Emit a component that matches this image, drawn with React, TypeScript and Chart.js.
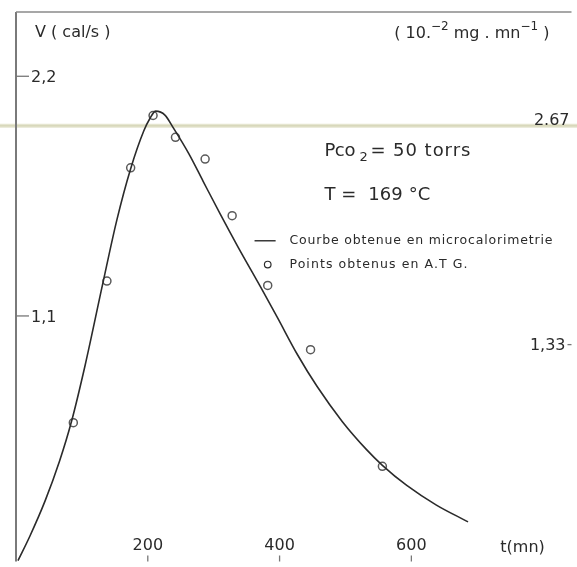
import React, { useEffect, useRef } from "react";
import { Chart, registerables } from "chart.js";
Chart.register(...registerables);

// Microcalorimetry curve (t in mn, V in cal/s)
const curveT = [3, 21, 44, 66, 84, 105, 131, 153, 174, 194, 203, 212, 226, 239, 262, 284, 310, 337, 373, 397, 427, 457, 495, 532, 556, 593, 638, 686];
const curveV = [-0.023, 0.089, 0.25, 0.433, 0.613, 0.875, 1.239, 1.54, 1.776, 1.95, 2.005, 2.04, 2.022, 1.962, 1.846, 1.718, 1.567, 1.416, 1.223, 1.091, 0.923, 0.776, 0.616, 0.4865, 0.4145, 0.322, 0.232, 0.155];

// A.T.G. points
const pointsT = [87, 138, 174, 208, 242, 287, 328, 382, 447, 556];
const pointsV = [0.61, 1.26, 1.78, 2.02, 1.92, 1.82, 1.56, 1.24, 0.945, 0.41];

// ticks
const xTicks = [200, 400, 600];
const xTickLabels = ["200", "400", "600"];
const yTicks = [2.2, 1.1];
const yTickLabels = ["2,2", "1,1"];
const y2Ticks = [2.67, 1.33];
const y2TickLabels = ["2.67", "1,33"];

const FONT = '"DejaVu Sans", "Liberation Sans", sans-serif';
const INK = "#2a2a2a";

function drawFitted(ctx: CanvasRenderingContext2D, text: string, x: number, y: number, target: number) {
  ctx.save();
  (ctx as any).letterSpacing = "0px";
  const w = ctx.measureText(text).width;
  const n = text.length;
  const ls = n > 1 ? (target - w) / (n - 1) : 0;
  (ctx as any).letterSpacing = ls + "px";
  ctx.fillText(text, x, y);
  ctx.restore();
}

const decorPlugin = {
  id: "decor",
  beforeDatasetsDraw(chart: any) {
    const { ctx, chartArea } = chart;
    const xs = chart.scales.x;
    const ys = chart.scales.y;
    const y2 = chart.scales.y2;
    const x0 = xs.getPixelForValue(0);
    ctx.save();
    // faint scan line
    const yl = y2.getPixelForValue(2.635);
    ctx.strokeStyle = "rgba(222,222,196,0.8)";
    ctx.lineWidth = 4;
    ctx.beginPath();
    ctx.moveTo(0, yl);
    ctx.lineTo(chart.width, yl);
    ctx.stroke();
    ctx.strokeStyle = "rgba(205,205,170,0.55)";
    ctx.lineWidth = 1.5;
    ctx.beginPath();
    ctx.moveTo(0, yl);
    ctx.lineTo(chart.width, yl);
    ctx.stroke();

    // left axis
    ctx.strokeStyle = "#7a7a7a";
    ctx.lineWidth = 2;
    ctx.beginPath();
    ctx.moveTo(x0, chartArea.top);
    ctx.lineTo(x0, chartArea.bottom);
    ctx.stroke();
    // top border
    ctx.lineWidth = 1.6;
    ctx.strokeStyle = "#8a8a8a";
    ctx.beginPath();
    ctx.moveTo(x0, chartArea.top);
    ctx.lineTo(chartArea.right, chartArea.top);
    ctx.stroke();

    ctx.fillStyle = INK;
    ctx.textBaseline = "middle";

    // left ticks
    ctx.strokeStyle = "#777";
    ctx.lineWidth = 1.3;
    ctx.font = `16px ${FONT}`;
    ctx.textAlign = "left";
    yTicks.forEach((v, i) => {
      const py = ys.getPixelForValue(v);
      ctx.beginPath();
      ctx.moveTo(x0, py);
      ctx.lineTo(x0 + 13, py);
      ctx.stroke();
      ctx.fillText(yTickLabels[i], x0 + 15, py + 2);
    });

    // right ticks
    ctx.textAlign = "right";
    y2Ticks.forEach((v, i) => {
      const py = y2.getPixelForValue(v);
      if (i > 0) {
        ctx.beginPath();
        ctx.moveTo(chartArea.right - 4, py);
        ctx.lineTo(chartArea.right, py);
        ctx.stroke();
      }
      ctx.fillText(y2TickLabels[i], chartArea.right - (i === 0 ? 2 : 6), py + 1);
    });

    // bottom ticks
    ctx.textAlign = "center";
    xTicks.forEach((v, i) => {
      const px = xs.getPixelForValue(v);
      ctx.beginPath();
      ctx.moveTo(px, chartArea.bottom - 6);
      ctx.lineTo(px, chartArea.bottom);
      ctx.stroke();
      ctx.fillText(xTickLabels[i], px, chartArea.bottom - 16);
    });
    ctx.textAlign = "left";
    ctx.fillText("t(mn)", xs.getPixelForValue(735), chartArea.bottom - 14);

    // axis titles
    ctx.font = `16px ${FONT}`;
    ctx.fillText("V ( cal/s )", x0 + 19, chartArea.top + 21);

    // right units: ( 10.^-2 mg . mn^-1 )
    {
      const parts: [string, boolean][] = [
        ["( 10.", false],
        ["\u22122", true],
        [" mg . mn", false],
        ["\u22121", true],
        [" )", false],
      ];
      let widths = 0;
      parts.forEach(([t, sup]) => {
        ctx.font = sup ? `12px ${FONT}` : `16px ${FONT}`;
        widths += ctx.measureText(t).width;
      });
      let cx = chartArea.right - 22 - widths;
      const by = chartArea.top + 22;
      parts.forEach(([t, sup]) => {
        ctx.font = sup ? `12px ${FONT}` : `16px ${FONT}`;
        ctx.fillText(t, cx, sup ? by - 7 : by);
        cx += ctx.measureText(t).width;
      });
    }

    // annotations
    {
      const ax0 = xs.getPixelForValue(468);
      const ay = ys.getPixelForValue(1.855);
      ctx.font = `18px ${FONT}`;
      drawFitted(ctx, "Pco", ax0, ay, 31);
      ctx.font = `13px ${FONT}`;
      ctx.fillText("2", ax0 + 35, ay + 6);
      ctx.font = `18px ${FONT}`;
      drawFitted(ctx, "= 50 torrs", ax0 + 46, ay, 100);
      drawFitted(ctx, "T =  169 \u00b0C", ax0, ys.getPixelForValue(1.655), 106);
    }

    // legend
    {
      const ly1 = ys.getPixelForValue(1.445);
      const ly2 = ys.getPixelForValue(1.336);
      ctx.strokeStyle = "#2b2b2b";
      ctx.lineWidth = 1.4;
      ctx.beginPath();
      ctx.moveTo(xs.getPixelForValue(362), ly1);
      ctx.lineTo(xs.getPixelForValue(394), ly1);
      ctx.stroke();
      ctx.lineWidth = 1.2;
      ctx.beginPath();
      ctx.arc(xs.getPixelForValue(382), ly2, 3.3, 0, Math.PI * 2);
      ctx.stroke();
      ctx.font = `12.5px ${FONT}`;
      const lx = xs.getPixelForValue(415);
      drawFitted(ctx, "Courbe obtenue en microcalorimetrie", lx, ly1, 263);
      drawFitted(ctx, "Points obtenus en A.T G.", lx, ly2, 178);
    }
    ctx.restore();
  },
};

export default function App() {
  const ref = useRef<HTMLCanvasElement | null>(null);
  useEffect(() => {
    document.body.style.margin = "0";
    document.body.style.background = "#ffffff";
    if (!ref.current) return;
    const chart = new Chart(ref.current, {
      type: "line",
      data: {
        datasets: [
          {
            label: "Courbe obtenue en microcalorimetrie",
            data: curveT.map((t, i) => ({ x: t, y: curveV[i] })),
            borderColor: "#2b2b2b",
            borderWidth: 1.6,
            pointRadius: 0,
            tension: 0.4,
            cubicInterpolationMode: "monotone",
            fill: false,
          },
          {
            label: "Points obtenus en A.T G.",
            data: pointsT.map((t, i) => ({ x: t, y: pointsV[i] })),
            showLine: false,
            pointRadius: 4,
            pointBorderWidth: 1.5,
            pointBorderColor: "#5a5a5a",
            pointBackgroundColor: "rgba(0,0,0,0)",
            borderColor: "#5a5a5a",
          },
        ],
      },
      options: {
        animation: false,
        responsive: false,
        devicePixelRatio: 1,
        layout: { padding: { left: 16, top: 12, right: 0, bottom: 0 } },
        plugins: { legend: { display: false }, tooltip: { enabled: false } },
        scales: {
          x: { type: "linear", min: 0, max: 843, display: false },
          y: { type: "linear", min: -0.027, max: 2.495, display: false },
          y2: { type: "linear", min: 0.037, max: 3.313, display: false, position: "right" },
        },
      },
      plugins: [decorPlugin],
    } as any);
    return () => chart.destroy();
  }, []);
  return (
    <div style={{ width: 577, height: 567, background: "#fff" }}>
      <canvas ref={ref} width={577} height={567} style={{ display: "block" }} />
    </div>
  );
}
